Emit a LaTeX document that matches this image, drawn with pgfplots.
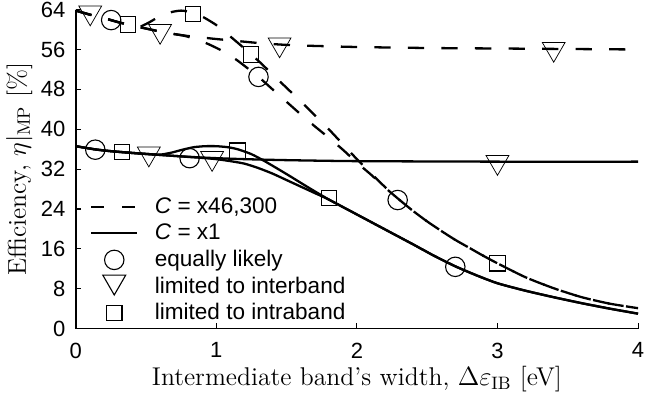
\documentclass[border=0pt]{standalone}
\usepackage{fontspec}
\setsansfont{Liberation Sans}
\usepackage{pgfplots}
\pgfplotsset{compat=1.18}
\begin{document}
\begin{tikzpicture}
\begin{axis}[
  scale only axis,
  width=306.7pt, height=174pt,
  xmin=0, xmax=4, ymin=0, ymax=64,
  xtick={0,1,2,3,4}, ytick={0,8,...,64},
  axis lines*=left,
  axis line style={-, line width=0.85pt},
  tick align=inside,
  major tick length=3pt,
  tick style={line width=0.6pt, black},
  clip=false,
  ticklabel style={font=\sffamily\fontsize{12}{14}\selectfont, inner sep=1pt},
  xticklabel style={yshift=-6.5pt},
  yticklabel style={xshift=-4.5pt},
  /pgf/number format/assume math mode=true,
  xlabel={Intermediate band's width, $\Delta\varepsilon_{\mathrm{IB}}$ [eV]},
  ylabel={Efficiency, $\eta|_{\mathrm{MP}}$ [\%]},
  label style={font=\fontsize{14}{16}\selectfont},
  legend style={draw=none, fill=none, at={(0.025,0.006)}, anchor=south west,
    font=\sffamily\fontsize{12.3}{14}\selectfont, inner sep=0pt,
    row sep=0pt, column sep=7pt},
  legend cell align=left,
  legend image code/.code={\path[draw=none, fill=none] (0cm,-7.25pt) rectangle (0.88cm,7.25pt); \draw[#1] (0cm,0cm) -- (0.88cm,0cm);},
  curve/.style={black, line width=1.25pt, smooth, tension=0.4},
  dcurve/.style={curve, dash pattern=on 8.9pt off 9.4pt},
  mk/.style={only marks, black, mark options={line width=0.6pt, solid, fill=none}},
]
\addlegendimage{black, line width=1.25pt, dash pattern=on 7pt off 10pt}
\addlegendentry{\textit{C} = x46,300}
\addlegendimage{black, line width=1.25pt}
\addlegendentry{\textit{C} = x1}
\addlegendimage{legend image code/.code={\path[draw=none, fill=none] (0cm,-7.25pt) rectangle (0.88cm,7.25pt); \draw[black, line width=0.6pt] (0.44cm,0cm) circle (5.3pt);}}
\addlegendentry{equally likely}
\addlegendimage{legend image code/.code={\path[draw=none, fill=none] (0cm,-7.25pt) rectangle (0.88cm,7.25pt); \path[black, line width=0.6pt, mark=triangle, mark size=7.2pt, mark options={rotate=180}] plot coordinates {(0.44cm,0.09cm)};}}
\addlegendentry{limited to interband}
\addlegendimage{legend image code/.code={\path[draw=none, fill=none] (0cm,-7.25pt) rectangle (0.88cm,7.25pt); \path[black, line width=0.6pt, mark=square, mark size=4.2pt] plot coordinates {(0.44cm,0cm)};}}
\addlegendentry{limited to intraband}

% dashed, equally likely
\addplot[dcurve] coordinates {(0,63.8) (0.1,63.0) (0.2,62.3) (0.3,61.5) (0.4,60.8) (0.5,60.2) (0.6,59.6) (0.7,59.1) (0.78,58.7) (0.87,57.9) (0.95,57.0) (1.05,55.6) (1.15,53.8) (1.3,50.5) (1.4,48.0) (1.5,45.5) (1.6,43.0) (1.7,40.6) (1.8,38.3) (1.9,35.9) (2.0,33.3) (2.1,30.9) (2.2,28.3) (2.3,25.9) (2.4,23.6) (2.5,21.5) (2.6,19.6) (2.7,17.8) (2.8,16.2) (2.9,14.6) (3.0,13.1) (3.2,10.3) (3.4,8.1) (3.6,6.3) (3.8,5.0) (4.0,4.1)};
% dashed, interband
\addplot[dcurve] coordinates {(0,63.8) (0.1,63.0) (0.2,62.3) (0.3,61.5) (0.4,60.8) (0.5,60.2) (0.6,59.6) (0.7,59.1) (0.8,58.7) (0.9,58.4) (1.0,58.1) (1.15,57.7) (1.3,57.3) (1.45,57.0) (1.6,56.8) (2.0,56.5) (2.5,56.3) (3.0,56.2) (3.5,56.1) (4.0,56.0)};
% dashed, intraband
\addplot[dcurve] coordinates {(0,63.8) (0.1,63.0) (0.2,62.3) (0.3,61.5) (0.4,60.8) (0.45,60.5) (0.52,61.4) (0.6,62.7) (0.68,63.5) (0.75,63.8) (0.82,63.5) (0.9,62.6) (1.0,60.9) (1.1,58.6) (1.2,56.2) (1.3,53.7) (1.4,51.0) (1.5,48.3) (1.6,45.6) (1.7,42.8) (1.8,40.0) (1.9,37.0) (2.0,34.0) (2.1,31.2) (2.2,28.4) (2.3,25.9) (2.4,23.6) (2.5,21.5) (2.6,19.6) (2.7,17.8) (2.8,16.2) (2.9,14.6) (3.0,13.1) (3.2,10.3) (3.4,8.1) (3.6,6.3) (3.8,5.0) (4.0,4.1)};
% solid, interband
\addplot[curve] coordinates {(0,36.6) (0.14,35.95) (0.25,35.6) (0.4,35.25) (0.55,34.95) (0.7,34.65) (0.85,34.4) (1.0,34.2) (1.2,34.0) (1.5,33.8) (2.0,33.6) (3.0,33.5) (4.0,33.5)};
% solid, equally likely
\addplot[curve] coordinates {(0,36.6) (0.14,35.95) (0.25,35.6) (0.4,35.25) (0.55,34.95) (0.7,34.65) (0.8,34.45) (0.9,34.25) (1.0,34.0) (1.1,33.6) (1.2,33.1) (1.3,32.2) (1.4,31.1) (1.5,29.8) (1.6,28.5) (1.7,27.2) (1.8,25.9) (2.0,22.9) (2.2,19.9) (2.4,16.9) (2.55,14.6) (2.7,12.5) (2.85,10.7) (3.0,9.1) (3.2,7.6) (3.4,6.3) (3.6,5.1) (3.8,4.0) (4.0,3.0)};
% solid, intraband
\addplot[curve] coordinates {(0,36.6) (0.14,35.95) (0.25,35.6) (0.4,35.25) (0.52,35.0) (0.6,34.9) (0.68,35.3) (0.76,35.9) (0.84,36.4) (0.92,36.6) (1.0,36.6) (1.08,36.4) (1.15,36.0) (1.25,35.0) (1.35,33.5) (1.5,31.0) (1.65,28.4) (1.8,25.9) (2.0,22.9) (2.2,19.9) (2.4,16.9) (2.55,14.6) (2.7,12.5) (2.85,10.7) (3.0,9.1) (3.2,7.6) (3.4,6.3) (3.6,5.1) (3.8,4.0) (4.0,3.0)};

% markers: circles
\addplot[mk, mark=o, mark size=5.3pt] coordinates {(0.252,61.9) (1.30,50.5) (2.29,25.8) (0.139,35.9) (0.81,34.2) (2.70,12.4)};
% triangles
\addplot[mk, mark=triangle, mark size=7.2pt, mark options={rotate=180}] coordinates {(0.103,63.4) (0.60,59.7) (1.45,57.0) (3.40,56.1) (0.52,35.1) (0.97,34.2) (3.0,33.4)};
% squares
\addplot[mk, mark=square, mark size=4.2pt] coordinates {(0.373,61.0) (0.835,63.1) (1.245,55.0) (3.0,13.1) (0.33,35.4) (1.15,35.7) (1.80,26.2)};
\end{axis}
\end{tikzpicture}
\end{document}
